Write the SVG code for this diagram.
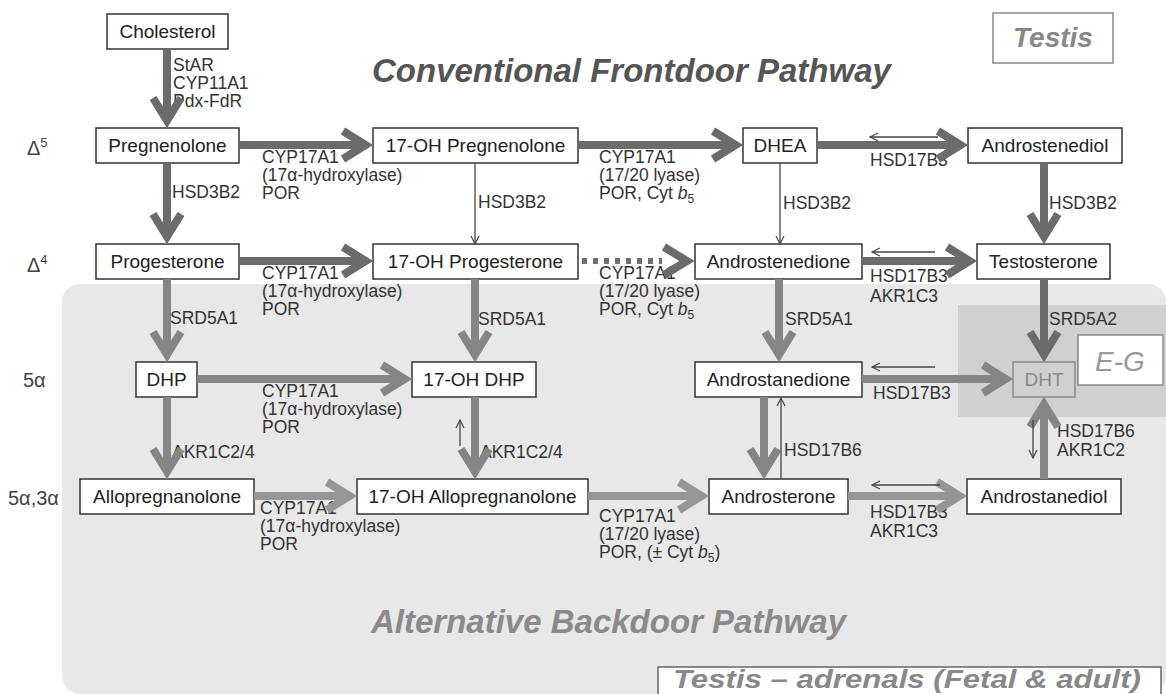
<svg xmlns="http://www.w3.org/2000/svg" width="1166" height="694" viewBox="0 0 1166 694">
<style>
.bg{fill:#ffffff}
.box rect{fill:#ffffff;stroke:#333;stroke-width:1.5}
.box text{font-family:"Liberation Sans",Arial,sans-serif;font-size:19px;fill:#222;text-anchor:middle}
.lbl{font-family:"Liberation Sans",Arial,sans-serif;font-size:17.5px;fill:#333}
.side{font-family:"Liberation Sans",Arial,sans-serif;font-size:20px;fill:#444}
.title{font-family:"Liberation Sans",Arial,sans-serif;font-size:33px;font-weight:bold;font-style:italic}
.d{fill:none;stroke:#6b6b6b;stroke-width:8}
.m{fill:none;stroke:#858585;stroke-width:8}
.l{fill:none;stroke:#969696;stroke-width:8}
.thin{fill:none;stroke:#444;stroke-width:1.3}
</style>
<defs>
<marker id="ahD" markerUnits="userSpaceOnUse" markerWidth="40" markerHeight="40" viewBox="-30 -20 40 40" refX="0" refY="0" orient="auto" overflow="visible"><path d="M-22,-14 L0.6,0 L-22,14" fill="none" stroke="#6b6b6b" stroke-width="8"/></marker>
<marker id="ahM" markerUnits="userSpaceOnUse" markerWidth="40" markerHeight="40" viewBox="-30 -20 40 40" refX="0" refY="0" orient="auto" overflow="visible"><path d="M-22,-14 L0.6,0 L-22,14" fill="none" stroke="#858585" stroke-width="8"/></marker>
<marker id="ahL" markerUnits="userSpaceOnUse" markerWidth="40" markerHeight="40" viewBox="-30 -20 40 40" refX="0" refY="0" orient="auto" overflow="visible"><path d="M-22,-14 L0.6,0 L-22,14" fill="none" stroke="#969696" stroke-width="8"/></marker>
<marker id="ahT" markerUnits="userSpaceOnUse" markerWidth="14" markerHeight="12" viewBox="-12 -6 14 12" refX="0" refY="0" orient="auto" overflow="visible"><path d="M-8,-4 L0,0 L-8,4" fill="none" stroke="#444" stroke-width="1.2"/></marker>
</defs>
<rect class="bg" x="0" y="0" width="1166" height="694"/>
<!-- shaded regions -->
<rect x="62" y="284" width="1104" height="410" rx="18" fill="#e8e8e8"/>
<rect x="958" y="305" width="208" height="112" fill="#d0d0d0"/>

<!-- titles -->
<text class="title" x="372" y="82" fill="#555">Conventional Frontdoor Pathway</text>
<text class="title" x="371" y="633" fill="#8a8a8a">Alternative Backdoor Pathway</text>

<g id="testis">
<rect x="993" y="13" width="120" height="50" fill="#fff" stroke="#888" stroke-width="1.5"/>
<text x="1053" y="47" font-family="Liberation Sans,Arial,sans-serif" font-size="28" font-weight="bold" font-style="italic" fill="#888" text-anchor="middle">Testis</text>
</g>
<g id="eg">
<rect x="1078" y="335" width="85" height="50" fill="#fff" stroke="#888" stroke-width="1.5"/>
<text x="1120" y="371" font-family="Liberation Sans,Arial,sans-serif" font-size="28" font-style="italic" fill="#9a9a9a" text-anchor="middle">E-G</text>
</g>
<g id="testis-adrenals">
<rect x="658" y="667" width="503" height="40" fill="#fff" stroke="#666" stroke-width="1.5"/>
<text x="673" y="688" font-family="Liberation Sans,Arial,sans-serif" font-size="26" font-weight="bold" font-style="italic" fill="#888" textLength="468" lengthAdjust="spacingAndGlyphs">Testis – adrenals (Fetal &amp; adult)</text>
</g>

<!-- side labels -->
<g id="side-labels">
<text class="side" x="27" y="155" font-size="18">Δ<tspan font-size="13" dy="-8">5</tspan></text>
<text class="side" x="27" y="272" font-size="18">Δ<tspan font-size="13" dy="-8">4</tspan></text>
<text class="side" x="23" y="387">5α</text>
<text class="side" x="8" y="505">5α,3α</text>
</g>

<!-- nodes -->
<g id="cholesterol" class="box"><rect x="107" y="14" width="121" height="35"/><text x="167.5" y="38">Cholesterol</text></g>
<g id="pregnenolone" class="box"><rect x="96" y="128" width="143" height="35"/><text x="167.5" y="152">Pregnenolone</text></g>
<g id="oh-pregnenolone" class="box"><rect x="373" y="128" width="205" height="35"/><text x="475.5" y="152">17-OH Pregnenolone</text></g>
<g id="dhea" class="box"><rect x="743" y="128" width="74" height="35"/><text x="780" y="152">DHEA</text></g>
<g id="androstenediol" class="box"><rect x="968" y="128" width="154" height="35"/><text x="1045" y="152">Androstenediol</text></g>
<g id="progesterone" class="box"><rect x="96" y="244" width="143" height="35"/><text x="167.5" y="268">Progesterone</text></g>
<g id="oh-progesterone" class="box"><rect x="373" y="244" width="205" height="35"/><text x="475.5" y="268">17-OH Progesterone</text></g>
<g id="androstenedione" class="box"><rect x="695" y="244" width="167" height="35"/><text x="778.5" y="268">Androstenedione</text></g>
<g id="testosterone" class="box"><rect x="977" y="244" width="133" height="35"/><text x="1043.5" y="268">Testosterone</text></g>
<g id="dhp" class="box"><rect x="136" y="362" width="61" height="35"/><text x="166.5" y="386">DHP</text></g>
<g id="oh-dhp" class="box"><rect x="412" y="362" width="124" height="35"/><text x="474" y="386">17-OH DHP</text></g>
<g id="androstanedione" class="box"><rect x="695" y="362" width="167" height="35"/><text x="778.5" y="386">Androstanedione</text></g>
<g id="dht"><rect x="1013" y="362" width="62" height="35" fill="none" stroke="#888" stroke-width="1.5"/><text x="1044" y="386" font-family="Liberation Sans,Arial,sans-serif" font-size="19" fill="#888" text-anchor="middle">DHT</text></g>
<g id="allopregnanolone" class="box"><rect x="80" y="479" width="174" height="35"/><text x="167" y="503">Allopregnanolone</text></g>
<g id="oh-allopregnanolone" class="box"><rect x="357" y="479" width="231" height="35"/><text x="472.5" y="503">17-OH Allopregnanolone</text></g>
<g id="androsterone" class="box"><rect x="709" y="479" width="139" height="35"/><text x="778.5" y="503">Androsterone</text></g>
<g id="androstanediol" class="box"><rect x="967" y="479" width="154" height="35"/><text x="1044" y="503">Androstanediol</text></g>

<!-- connectors -->
<g id="connectors">
<g id="connector-labels" class="lbl">
<text x="173" y="71">StAR</text>
<text x="173" y="89">CYP11A1</text>
<text x="173" y="107">Pdx-FdR</text>
<text x="172" y="198">HSD3B2</text>
<text x="478" y="208">HSD3B2</text>
<text x="783" y="209">HSD3B2</text>
<text x="1049" y="209">HSD3B2</text>
<text x="262" y="163">CYP17A1</text>
<text x="262" y="181">(17α-hydroxylase)</text>
<text x="262" y="199">POR</text>
<text x="599" y="163">CYP17A1</text>
<text x="599" y="181">(17/20 lyase)</text>
<text x="599" y="199">POR, Cyt <tspan font-style="italic">b</tspan><tspan font-size="12" dy="4">5</tspan></text>
<text x="870" y="166">HSD17B3</text>
<text x="262" y="279">CYP17A1</text>
<text x="262" y="297">(17α-hydroxylase)</text>
<text x="262" y="315">POR</text>
<text x="599" y="279">CYP17A1</text>
<text x="599" y="297">(17/20 lyase)</text>
<text x="599" y="315">POR, Cyt <tspan font-style="italic">b</tspan><tspan font-size="12" dy="4">5</tspan></text>
<text x="870" y="282">HSD17B3</text>
<text x="870" y="302">AKR1C3</text>
<text x="170" y="324">SRD5A1</text>
<text x="478" y="325">SRD5A1</text>
<text x="785" y="325">SRD5A1</text>
<text x="1049" y="325">SRD5A2</text>
<text x="262" y="397">CYP17A1</text>
<text x="262" y="415">(17α-hydroxylase)</text>
<text x="262" y="433">POR</text>
<text x="873" y="399">HSD17B3</text>
<text x="172" y="458">AKR1C2/4</text>
<text x="480" y="458">AKR1C2/4</text>
<text x="784" y="456">HSD17B6</text>
<text x="1057" y="437">HSD17B6</text>
<text x="1057" y="456">AKR1C2</text>
<text x="260" y="514">CYP17A1</text>
<text x="260" y="532">(17α-hydroxylase)</text>
<text x="260" y="550">POR</text>
<text x="599" y="522">CYP17A1</text>
<text x="599" y="540">(17/20 lyase)</text>
<text x="599" y="558">POR, (± Cyt <tspan font-style="italic">b</tspan><tspan font-size="12" dy="4">5</tspan><tspan dy="-4">)</tspan></text>
<text x="870" y="518">HSD17B3</text>
<text x="870" y="537">AKR1C3</text>
</g>
<!-- thick arrows -->
<path class="d" d="M167,49 V120" marker-end="url(#ahD)"/>
<path class="d" d="M167,163 V236" marker-end="url(#ahD)"/>
<path class="d" d="M239,145 H365" marker-end="url(#ahD)"/>
<path class="d" d="M578,145 H735" marker-end="url(#ahD)"/>
<path class="d" d="M817,145 H960" marker-end="url(#ahD)"/>
<path class="d" d="M1044,163 V236" marker-end="url(#ahD)"/>
<path class="d" d="M239,261 H365" marker-end="url(#ahD)"/>
<path class="d" d="M862,261 H969" marker-end="url(#ahD)"/>
<path class="d" d="M1044,279 V354" marker-end="url(#ahD)"/>
<path d="M582,261 H662" fill="none" stroke="#707070" stroke-width="6" stroke-dasharray="5 6"/>
<path class="d" d="M664,247 L687,261 L664,275"/>
<path class="m" d="M167,279 V354" marker-end="url(#ahM)"/>
<path class="m" d="M475,279 V354" marker-end="url(#ahM)"/>
<path class="m" d="M779,279 V354" marker-end="url(#ahM)"/>
<path class="m" d="M197,379 H404" marker-end="url(#ahM)"/>
<path class="m" d="M862,379 H1005" marker-end="url(#ahM)"/>
<path class="m" d="M167,397 V471" marker-end="url(#ahM)"/>
<path class="m" d="M475,397 V471" marker-end="url(#ahM)"/>
<path class="m" d="M764,397 V471" marker-end="url(#ahM)"/>
<path class="m" d="M1044,479 V405" marker-end="url(#ahM)"/>
<path class="l" d="M254,496 H349" marker-end="url(#ahL)"/>
<path class="l" d="M588,496 H701" marker-end="url(#ahL)"/>
<path class="l" d="M848,496 H959" marker-end="url(#ahL)"/>
<!-- thin arrows -->
<path class="thin" d="M475,163 V244" marker-end="url(#ahT)"/>
<path class="thin" d="M780,163 V244" marker-end="url(#ahT)"/>
<path class="thin" d="M938,137 H870" marker-end="url(#ahT)"/>
<path class="thin" d="M935,252 H872" marker-end="url(#ahT)"/>
<path class="thin" d="M935,367 H872" marker-end="url(#ahT)"/>
<path class="thin" d="M940,485 H872" marker-end="url(#ahT)"/>
<path class="thin" d="M460,446 V420" marker-end="url(#ahT)"/>
<path class="thin" d="M781,478 V398" marker-end="url(#ahT)"/>
<path class="thin" d="M1033,420 V458" marker-end="url(#ahT)"/>
</g>
</svg>
